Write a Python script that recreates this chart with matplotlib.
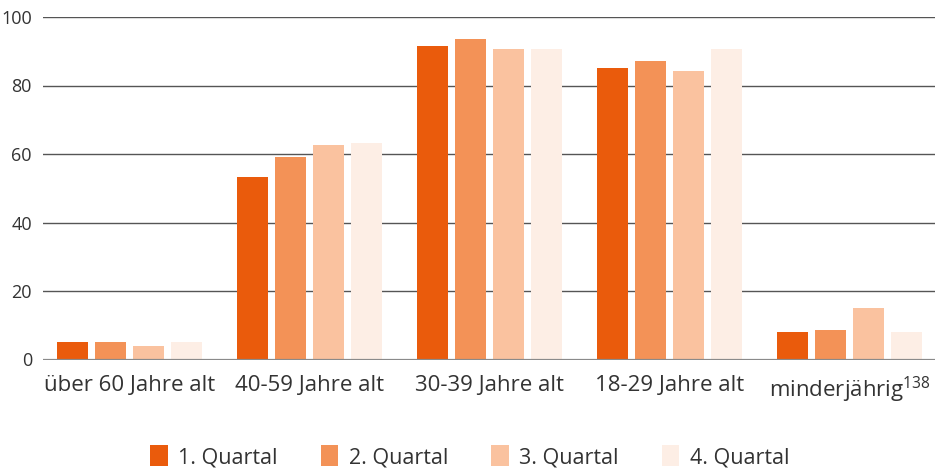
import matplotlib.pyplot as plt
import numpy as np

# Altersgruppen
groups = ['über 60 Jahre alt', '40-59 Jahre alt', '30-39 Jahre alt', '18-29 Jahre alt', 'minderjährig$^{\\mathregular{138}}$']
q1 = [5.2, 53.4, 91.6, 85.2, 7.9]
q2 = [5.2, 59.2, 93.7, 87.2, 8.5]
q3 = [3.8, 62.7, 90.7, 84.3, 14.9]
q4 = [5.2, 63.3, 90.7, 90.7, 7.9]
series_names = ['1. Quartal', '2. Quartal', '3. Quartal', '4. Quartal']
colors = ['#EA5B0C', '#F39257', '#FAC29F', '#FDEEE5']

plt.rcParams['font.family'] = ['Open Sans', 'DejaVu Sans']
plt.rcParams['mathtext.fontset'] = 'custom'
plt.rcParams['mathtext.rm'] = 'Open Sans'

dpi = 100
fig = plt.figure(dpi=dpi, figsize=(938 / dpi, 468 / dpi))
ax = fig.add_axes([43 / 938, 1 - 359.5 / 468, (935 - 43) / 938, (359.5 - 17) / 468])

x = np.arange(len(groups))
step = 38 / 180
width = 31 / 180
for i, (vals, name) in enumerate(zip([q1, q2, q3, q4], series_names)):
    ax.bar(x + (i - 1.5) * step, vals, width, color=colors[i], label=name, zorder=2)

ax.set_ylim(0, 100)
ax.set_xlim(-(129.5 - 43) / 180, 4 + (935 - 849.5) / 180)
ax.set_yticks([0, 20, 40, 60, 80, 100])
ax.set_xticks(x)
ax.set_xticklabels(groups)

for y in [20, 40, 60, 80, 100]:
    ax.axhline(y, color='#555555', lw=1.0, zorder=1)
ax.axhline(0, color='#8a8a8a', lw=1.6, zorder=3)

for s in ax.spines.values():
    s.set_visible(False)
ax.tick_params(axis='y', length=0, pad=8, labelsize=13, labelcolor='#333333')
ax.tick_params(axis='x', length=0, pad=11, labelsize=16, labelcolor='#333333')

fig.legend(loc='center', bbox_to_anchor=(0.501, 0.024), ncol=4, frameon=False,
           fontsize=15.5, handlelength=0.8, handleheight=1.1, handletextpad=0.5,
           columnspacing=2.0, labelcolor='#333333')

fig.savefig('out.png', dpi=dpi)
